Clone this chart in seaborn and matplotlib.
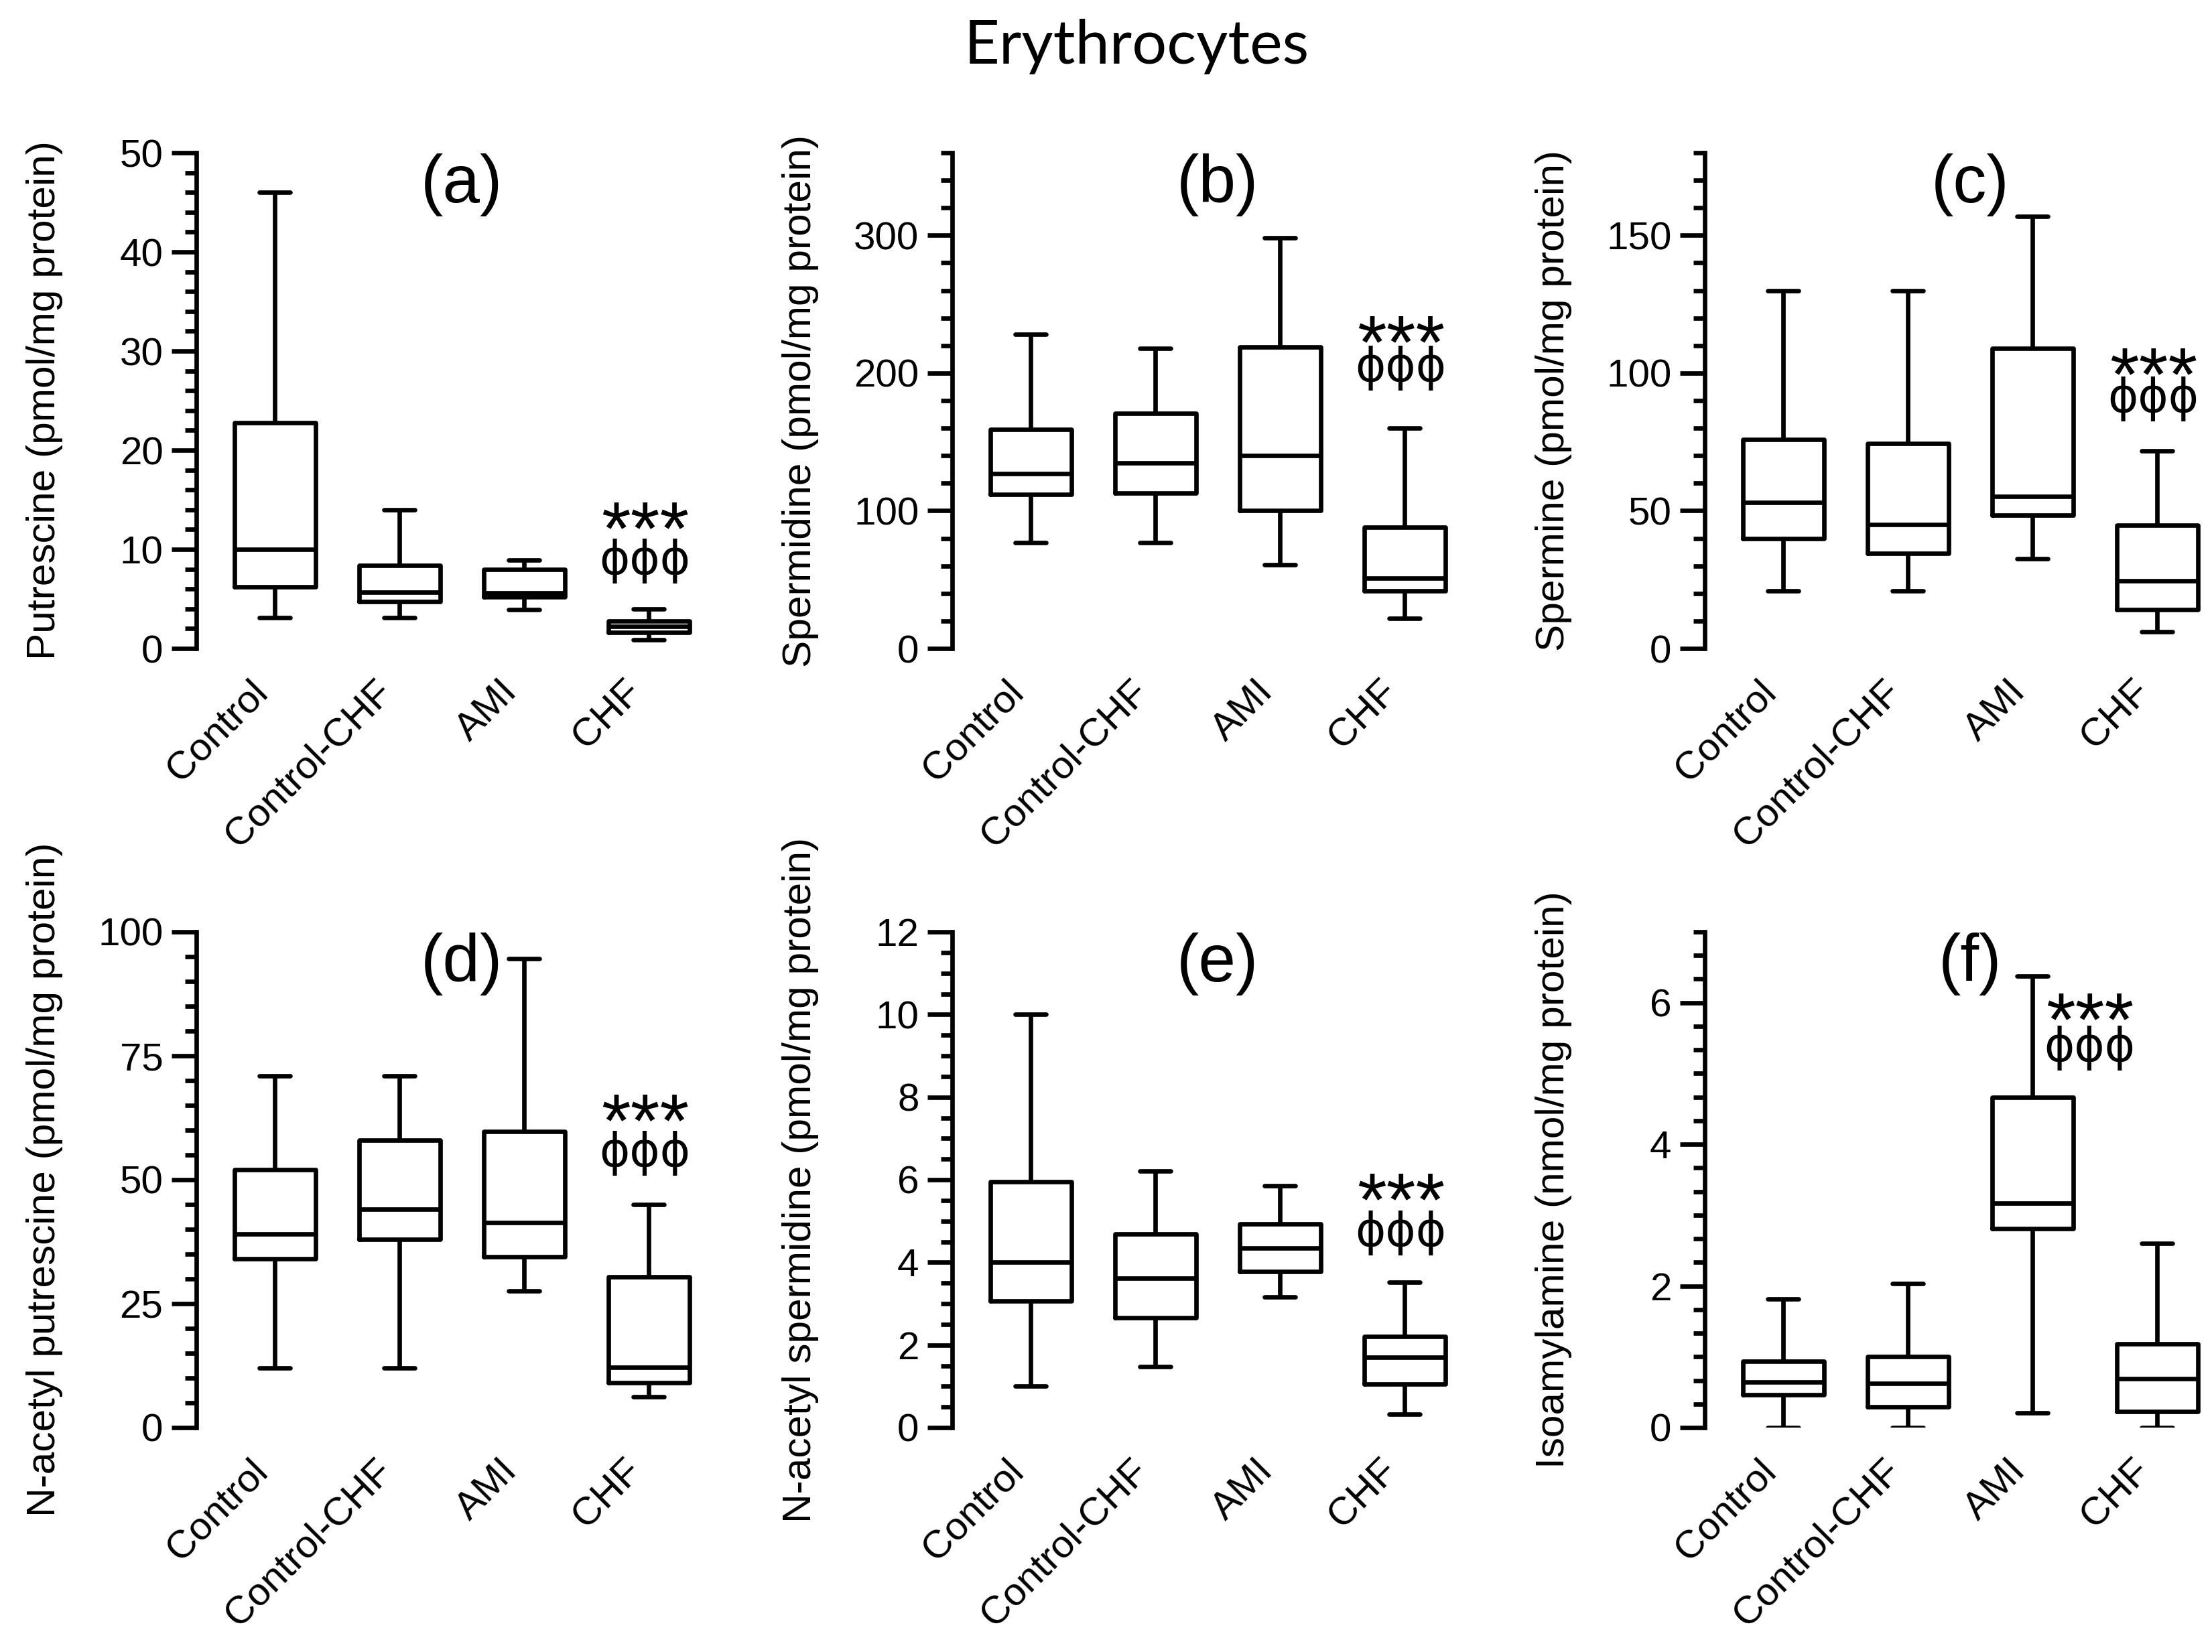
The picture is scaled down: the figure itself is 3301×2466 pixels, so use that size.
import seaborn as sns
import matplotlib.pyplot as plt
import matplotlib.transforms as mtransforms
from matplotlib.ticker import MultipleLocator
import pandas as pd

groups = ['Control', 'Control-CHF', 'AMI', 'CHF']

# five-number summaries: min, Q1, median, Q3, max
putrescine = [[3.1, 6.2, 10.0, 22.8, 46.0],
              [3.1, 4.7, 5.7, 8.4, 14.0],
              [3.9, 5.2, 5.6, 8.0, 8.9],
              [0.9, 1.6, 2.2, 2.8, 4.0]]
spermidine = [[77, 112, 127, 159, 228],
              [77, 113, 135, 171, 218],
              [61, 100, 140, 219, 298],
              [22, 42, 51, 88, 160]]
spermine = [[21, 40, 53, 76, 130],
            [21, 34.5, 45, 74.5, 130],
            [32.6, 48.4, 55.3, 109, 157],
            [6, 14, 24.5, 44.7, 71.7]]
acetyl_putrescine = [[12, 34, 39, 52, 71],
                     [12, 38, 44, 58, 71],
                     [27.6, 34.4, 41.4, 59.7, 94.6],
                     [6.2, 9, 12.2, 30.4, 45]]
acetyl_spermidine = [[1.0, 3.07, 4.0, 5.95, 10.0],
                     [1.47, 2.66, 3.61, 4.69, 6.21],
                     [3.16, 3.78, 4.35, 4.93, 5.86],
                     [0.33, 1.06, 1.71, 2.2, 3.52]]
isoamylamine = [[0, 0.46, 0.64, 0.94, 1.82],
                [0, 0.29, 0.62, 1.0, 2.03],
                [0.21, 2.81, 3.17, 4.66, 6.38],
                [0, 0.23, 0.69, 1.18, 2.6]]

ylabels = ['Putrescine (pmol/mg protein)',
           'Spermidine (pmol/mg protein)',
           'Spermine (pmol/mg protein)',
           'N-acetyl putrescine (pmol/mg protein)',
           'N-acetyl spermidine (pmol/mg protein)',
           'Isoamylamine (nmol/mg protein)']
letters = ['(a)', '(b)', '(c)', '(d)', '(e)', '(f)']
all_data = [putrescine, spermidine, spermine,
            acetyl_putrescine, acetyl_spermidine, isoamylamine]

# axis settings: (ymax, major step, minor step)
axis_setup = [(50, 10, 2), (360, 100, 20), (180, 50, 10),
              (100, 25, 5), (12, 2, 0.5), (7, 2, 1 / 3)]
# significance marks: (x in category units, star y, phi y) in axes fraction
marks = [(2.97, 0.277, 0.177), (2.97, 0.653, 0.566), (2.97, 0.588, 0.503),
         (2.97, 0.654, 0.553), (2.97, 0.495, 0.393), (2.46, 0.859, 0.766)]


def to_frame(summaries):
    rows = []
    for g, vals in zip(groups, summaries):
        for v in vals:
            rows.append({'group': g, 'value': v})
    return pd.DataFrame(rows)


sns.set_style('ticks')
plt.rcParams['font.family'] = ['Liberation Sans', 'DejaVu Sans']
plt.rcParams.update({'text.color': 'black', 'axes.labelcolor': 'black',
                     'xtick.color': 'black', 'ytick.color': 'black',
                     'axes.edgecolor': 'black'})

W, H = 3301, 2466
fig = plt.figure(figsize=(W / 300, H / 300), dpi=300)
fig.patch.set_facecolor('white')

lefts = [293, 1421, 2544]
bottoms = [968, 2131]
ax_h = 740
xlim = (-0.63, 3.4)
ax_w = (xlim[1] - xlim[0]) * 186
lw = 1.6

for i in range(6):
    row, col = divmod(i, 3)
    ax = fig.add_axes([lefts[col] / W, 1 - bottoms[row] / H, ax_w / W, ax_h / H])
    df = to_frame(all_data[i])
    sns.boxplot(data=df, x='group', y='value', order=groups, ax=ax,
                whis=(0, 100), fill=False, color='black', linecolor='black',
                width=0.65, linewidth=lw, capwidths=0.25)

    ymax, major, minor = axis_setup[i]
    ax.set_ylim(0, ymax)
    ax.set_xlim(*xlim)
    ax.yaxis.set_major_locator(MultipleLocator(major))
    ax.yaxis.set_minor_locator(MultipleLocator(minor))
    sns.despine(ax=ax, bottom=True)
    ax.spines['left'].set_linewidth(lw)
    ax.spines['left'].set_color('black')
    ax.tick_params(axis='y', which='major', length=8.9, width=lw,
                   labelsize=14, pad=3, colors='black')
    ax.tick_params(axis='y', which='minor', length=4.2, width=lw,
                   colors='black')
    ax.tick_params(axis='x', length=0, labelsize=14, pad=9, colors='black')
    for lab in ax.get_xticklabels():
        lab.set_rotation(45)
        lab.set_ha('right')

    ax.set_xlabel('')
    ax.set_ylabel(ylabels[i], fontsize=14.5, va='center', color='black')
    ax.yaxis.set_label_coords(-226 / ax_w, 0.5)

    trans = mtransforms.blended_transform_factory(ax.transData, ax.transAxes)
    ax.text(1.5, 0.935, letters[i], transform=trans, ha='center',
            va='center', fontsize=24)

    mx, star_y, phi_y = marks[i]
    ax.annotate('***', xy=(mx, star_y), xycoords=trans, xytext=(0, -15.5),
                textcoords='offset points', ha='center', va='baseline',
                fontsize=27)
    ax.annotate('\u03d5\u03d5\u03d5', xy=(mx, phi_y), xycoords=trans,
                xytext=(0, 0), textcoords='offset points', ha='center',
                va='center', fontsize=16.5, family=['DejaVu Sans'])

fig.text(0.514, 0.972, 'Erythrocytes', ha='center', va='center',
         fontsize=22, family=['Lato', 'DejaVu Sans'])

fig.savefig('out.png', dpi=300, facecolor='white')
